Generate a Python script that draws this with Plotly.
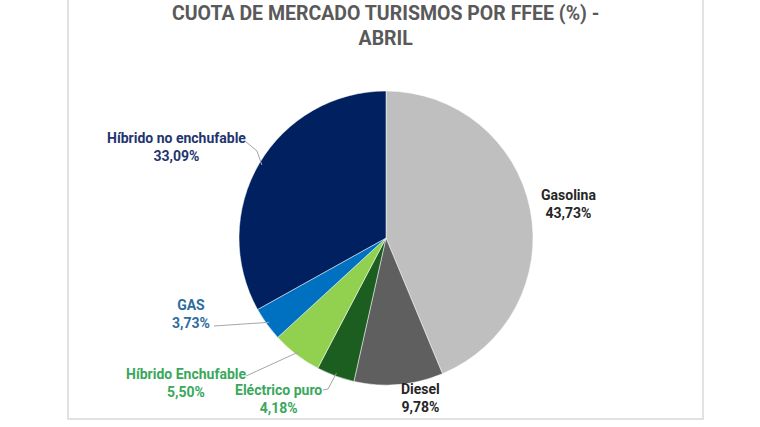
import math
import plotly.graph_objects as go

W, H = 760, 427
OFF = 0  # body margin removed via post_script

categories = ["Gasolina", "Diesel", "Eléctrico puro", "Híbrido Enchufable", "GAS", "Híbrido no enchufable"]
values = [43.73, 9.78, 4.18, 5.50, 3.73, 33.09]
value_labels = ["43,73%", "9,78%", "4,18%", "5,50%", "3,73%", "33,09%"]
slice_colors = ["#bfbfbf", "#5f5f5f", "#1b5e20", "#92d050", "#0070c0", "#002060"]
label_colors = ["#262626", "#262626", "#3aa85c", "#3aa85c", "#2e6c9e", "#1f3570"]

title_text = "CUOTA DE MERCADO TURISMOS POR FFEE (%) -<br>ABRIL"

# layout (pixel positions in the screenshot)
cx, cy, r = 386, 238, 147
label_pos = {
    "Gasolina": (568, 204),
    "Diesel": (420, 398),
    "Eléctrico puro": (278, 399),
    "Híbrido Enchufable": (186, 383),
    "GAS": (191, 314),
    "Híbrido no enchufable": (176, 147),
}
leader_pts = {
    "Híbrido no enchufable": [(245, 141), (257, 151)],
    "GAS": [(214, 326)],
    "Híbrido Enchufable": [(246, 376)],
    "Eléctrico puro": [(323, 390), (328, 389)],
}

def px(x):
    return (x - OFF) / W

def py(y):
    return 1 - (y - OFF) / H

fig = go.Figure(go.Pie(
    labels=categories,
    values=values,
    sort=False,
    direction="clockwise",
    rotation=0,
    marker=dict(colors=slice_colors, line=dict(color="white", width=0.5)),
    textinfo="none",
    hoverinfo="label+percent",
    showlegend=False,
    domain=dict(x=[px(cx - r), px(cx + r)], y=[py(cy + r), py(cy - r)]),
))

annotations = []
shapes = []
total = sum(values)
cum = 0
for cat, v, vl, lc in zip(categories, values, value_labels, label_colors):
    mid = (cum + v / 2) / total * 2 * math.pi
    cum += v
    lx, ly = label_pos[cat]
    annotations.append(dict(
        x=px(lx), y=py(ly), xref="paper", yref="paper",
        text=f"<b>{cat}</b><br><b>{vl}</b>", showarrow=False,
        font=dict(family="Roboto", size=14, color=lc),
        align="center", xanchor="center", yanchor="middle",
    ))
    if cat in leader_pts:
        ex = cx + (r - 3) * math.sin(mid)
        ey = cy - (r - 3) * math.cos(mid)
        pts = leader_pts[cat] + [(ex, ey)]
        path = "M " + " L ".join(f"{px(a)},{py(b)}" for a, b in pts)
        shapes.append(dict(type="path", xref="paper", yref="paper", path=path,
                           line=dict(color="#a6a6a6", width=1)))

# frame
shapes.append(dict(type="rect", xref="paper", yref="paper",
                   x0=px(68), x1=px(703), y0=py(419), y1=py(-20),
                   line=dict(color="#d9d9d9", width=1.5), layer="below"))

annotations.append(dict(
    x=px(385), y=py(26), xref="paper", yref="paper",
    text=f"<b>{title_text}</b>", showarrow=False,
    font=dict(family="Roboto", size=19.5, color="#595959"),
    align="center", xanchor="center", yanchor="middle",
))

fig.update_layout(
    width=W, height=H,
    margin=dict(l=0, r=0, t=0, b=0),
    paper_bgcolor="white", plot_bgcolor="white",
    annotations=annotations, shapes=shapes,
)

fig.write_html("out.html",
               config={"displayModeBar": False},
               post_script="document.body.style.margin='0';document.body.style.overflow='hidden';")
